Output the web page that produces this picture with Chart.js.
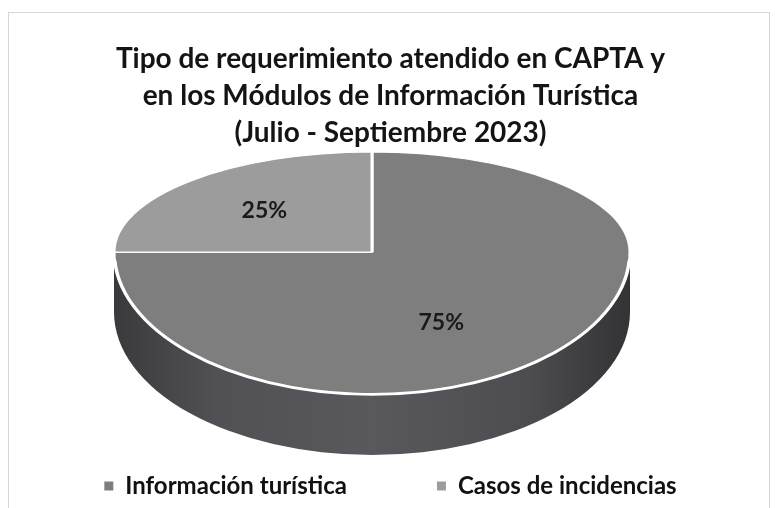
<!DOCTYPE html>
<html><head><meta charset="utf-8">
<script src="https://cdn.jsdelivr.net/npm/chart.js@4.4.0/dist/chart.umd.min.js"></script>
<style>html,body{margin:0;padding:0;background:#fff}#c{display:block}</style>
</head><body>
<canvas id="c" width="775" height="508"></canvas>
<script>
// ---- data ----
const categories = ['Información turística', 'Casos de incidencias'];
const shares = [75, 25];
const titleLines = ['Tipo de requerimiento atendido en CAPTA y', 'en los Módulos de Información Turística', '(Julio - Septiembre 2023)'];
const sliceColors = ['#7e7e7e', '#9c9c9c'];

// ---- 3D look (layout / style only) ----
const PIE_CX = 372, PIE_CY = 252, PIE_R = 258;
const TILT_TOP = 0.388, TILT_FRONT = 0.554, DEPTH = 60;
const LABEL_RADIUS = [0.5, 0.59];
const LABEL_NUDGE = [[-22, 20], [0, 0]];

const pie3d = {
  id: 'pie3d',
  beforeDraw(chart) {
    const ctx = chart.ctx;
    ctx.save();
    ctx.fillStyle = '#ffffff';
    ctx.fillRect(0, 0, chart.width, chart.height);
    ctx.strokeStyle = '#d6d6d6';
    ctx.lineWidth = 1;
    ctx.strokeRect(8.5, 12.5, 761, 520);
    ctx.restore();
  },
  beforeDatasetsDraw(chart) {
    const meta = chart.getDatasetMeta(0);
    const first = meta.data[0];
    const cx = first.x, cy = first.y, R = first.outerRadius;
    const ctx = chart.ctx;
    const X = PIE_CX, Y = PIE_CY;
    // side wall
    ctx.save();
    const g = ctx.createLinearGradient(X - R, 0, X + R, 0);
    g.addColorStop(0, '#3a3a3d');
    g.addColorStop(0.2, '#515155');
    g.addColorStop(0.5, '#59595d');
    g.addColorStop(0.8, '#4d4d51');
    g.addColorStop(1, '#333336');
    ctx.fillStyle = g;
    ctx.beginPath();
    ctx.moveTo(X + R, Y);
    ctx.lineTo(X + R, Y + DEPTH);
    ctx.ellipse(X, Y + DEPTH, R, R * TILT_FRONT, 0, 0, Math.PI);
    ctx.lineTo(X - R, Y);
    ctx.ellipse(X, Y, R, R * TILT_FRONT, 0, Math.PI, 0, true);
    ctx.closePath();
    ctx.fill();
    ctx.restore();
    // top face: back half and front half with different tilt
    [[0, Y, TILT_TOP], [Y, chart.height, TILT_FRONT]].forEach(([y0, y1, k]) => {
      ctx.save();
      ctx.beginPath();
      ctx.rect(0, y0, chart.width, y1 - y0);
      ctx.clip();
      ctx.translate(X, Y);
      ctx.scale(1, k);
      ctx.translate(-cx, -cy);
      meta.controller.draw();
      ctx.restore();
    });
    // white rim at front edge
    ctx.save();
    ctx.strokeStyle = '#ffffff';
    ctx.lineWidth = 2;
    ctx.beginPath();
    ctx.ellipse(X, Y, R - 1, R * TILT_FRONT - 1, 0, 0.06, Math.PI - 0.06);
    ctx.stroke();
    ctx.restore();
    // percentage labels
    const total = shares.reduce((a, b) => a + b, 0);
    ctx.save();
    ctx.fillStyle = '#1a1a1a';
    ctx.font = 'bold 23px Lato';
    ctx.textAlign = 'center';
    ctx.textBaseline = 'middle';
    meta.data.forEach((arc, i) => {
      const mid = (arc.startAngle + arc.endAngle) / 2;
      const r = arc.outerRadius * LABEL_RADIUS[i];
      const x = X + Math.cos(mid) * r;
      const dy = Math.sin(mid) * r;
      const y = Y + dy * (dy < 0 ? TILT_TOP : TILT_FRONT);
      ctx.fillText(Math.round(shares[i] / total * 100) + '%', x + LABEL_NUDGE[i][0], y + LABEL_NUDGE[i][1]);
    });
    ctx.restore();
    return false;
  }
};

function legendLabels(chart) {
  let items;
  try {
    items = Chart.DoughnutController.overrides.plugins.legend.labels.generateLabels(chart);
  } catch (e) {
    items = chart.data.labels.map((t, i) => ({ text: t, fillStyle: sliceColors[i], strokeStyle: sliceColors[i], index: i, hidden: false }));
  }
  return items.map(it => Object.assign({}, it, { lineWidth: 0, strokeStyle: it.fillStyle, fontColor: '#111111' }));
}

new Chart(document.getElementById('c'), {
  type: 'pie',
  data: {
    labels: categories,
    datasets: [{
      data: shares,
      backgroundColor: sliceColors,
      borderColor: '#ffffff',
      borderWidth: 3,
      radius: PIE_R
    }]
  },
  options: {
    responsive: false,
    animation: false,
    devicePixelRatio: 1,
    layout: { padding: { left: 6, right: 0, top: 0, bottom: 0 } },
    plugins: {
      title: {
        display: true,
        text: titleLines,
        color: '#141414',
        font: { family: 'Lato', size: 28, weight: 'bold', lineHeight: 1.31 },
        padding: { top: 41, bottom: 10 }
      },
      legend: {
        position: 'bottom',
        maxHeight: 127,
        labels: {
          color: '#111111',
          font: { family: 'Lato', size: 24, weight: 'bold' },
          boxWidth: 9,
          boxHeight: 9,
          padding: 90,
          generateLabels: legendLabels
        }
      },
      tooltip: { enabled: false }
    }
  },
  plugins: [pie3d]
});
</script>
</body></html>
